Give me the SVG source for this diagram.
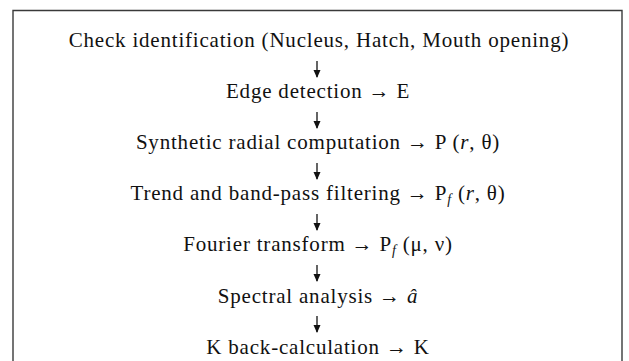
<svg xmlns="http://www.w3.org/2000/svg" width="629" height="361" viewBox="0 0 629 361">
<style>
.frame{stroke:#3a3a3a;stroke-width:1.4;fill:none}
.t{font-family:"Liberation Serif","Times New Roman",serif;font-size:21px;letter-spacing:0.8px;fill:#111;text-anchor:middle}
.i{font-style:italic}
.sub{font-size:14px;font-style:italic}
.conn{stroke:#111;stroke-width:1.3;fill:none}
</style>
<defs>
<marker id="ah" viewBox="0 0 8 10" refX="7" refY="5" markerWidth="8" markerHeight="10" markerUnits="userSpaceOnUse" orient="auto">
<path d="M0,1.5 L8,5 L0,8.5 Z" fill="#111"/>
</marker>
</defs>
<rect width="629" height="361" fill="#fff"/>
<g id="frame">
<path class="frame" d="M13,361 V10.5 H622 V361"/>
</g>
<g id="connectors">
<path class="conn" d="M317,61 V77" marker-end="url(#ah)"/>
<path class="conn" d="M317,112 V128" marker-end="url(#ah)"/>
<path class="conn" d="M317,163 V179" marker-end="url(#ah)"/>
<path class="conn" d="M317,214 V230" marker-end="url(#ah)"/>
<path class="conn" d="M317,265 V281" marker-end="url(#ah)"/>
<path class="conn" d="M317,316 V332" marker-end="url(#ah)"/>
</g>
<g id="n1"><text class="t" x="319" y="46.5">Check identification (Nucleus, Hatch, Mouth opening)</text></g>
<g id="n2"><text class="t" x="318" y="97.7">Edge detection → E</text></g>
<g id="n3"><text class="t" x="318" y="148.9">Synthetic radial computation → P (<tspan class="i">r</tspan>, θ)</text></g>
<g id="n4"><text class="t" x="318" y="200.1">Trend and band-pass filtering → P<tspan class="sub" dy="4">f</tspan><tspan dy="-4"> (</tspan><tspan class="i">r</tspan>, θ)</text></g>
<g id="n5"><text class="t" x="318" y="251.3">Fourier transform → P<tspan class="sub" dy="4">f</tspan><tspan dy="-4"> (μ, ν)</tspan></text></g>
<g id="n6"><text class="t" x="318" y="302.5">Spectral analysis → <tspan class="i">â</tspan></text></g>
<g id="n7"><text class="t" x="318" y="353.7">K back-calculation → K</text></g>
</svg>
